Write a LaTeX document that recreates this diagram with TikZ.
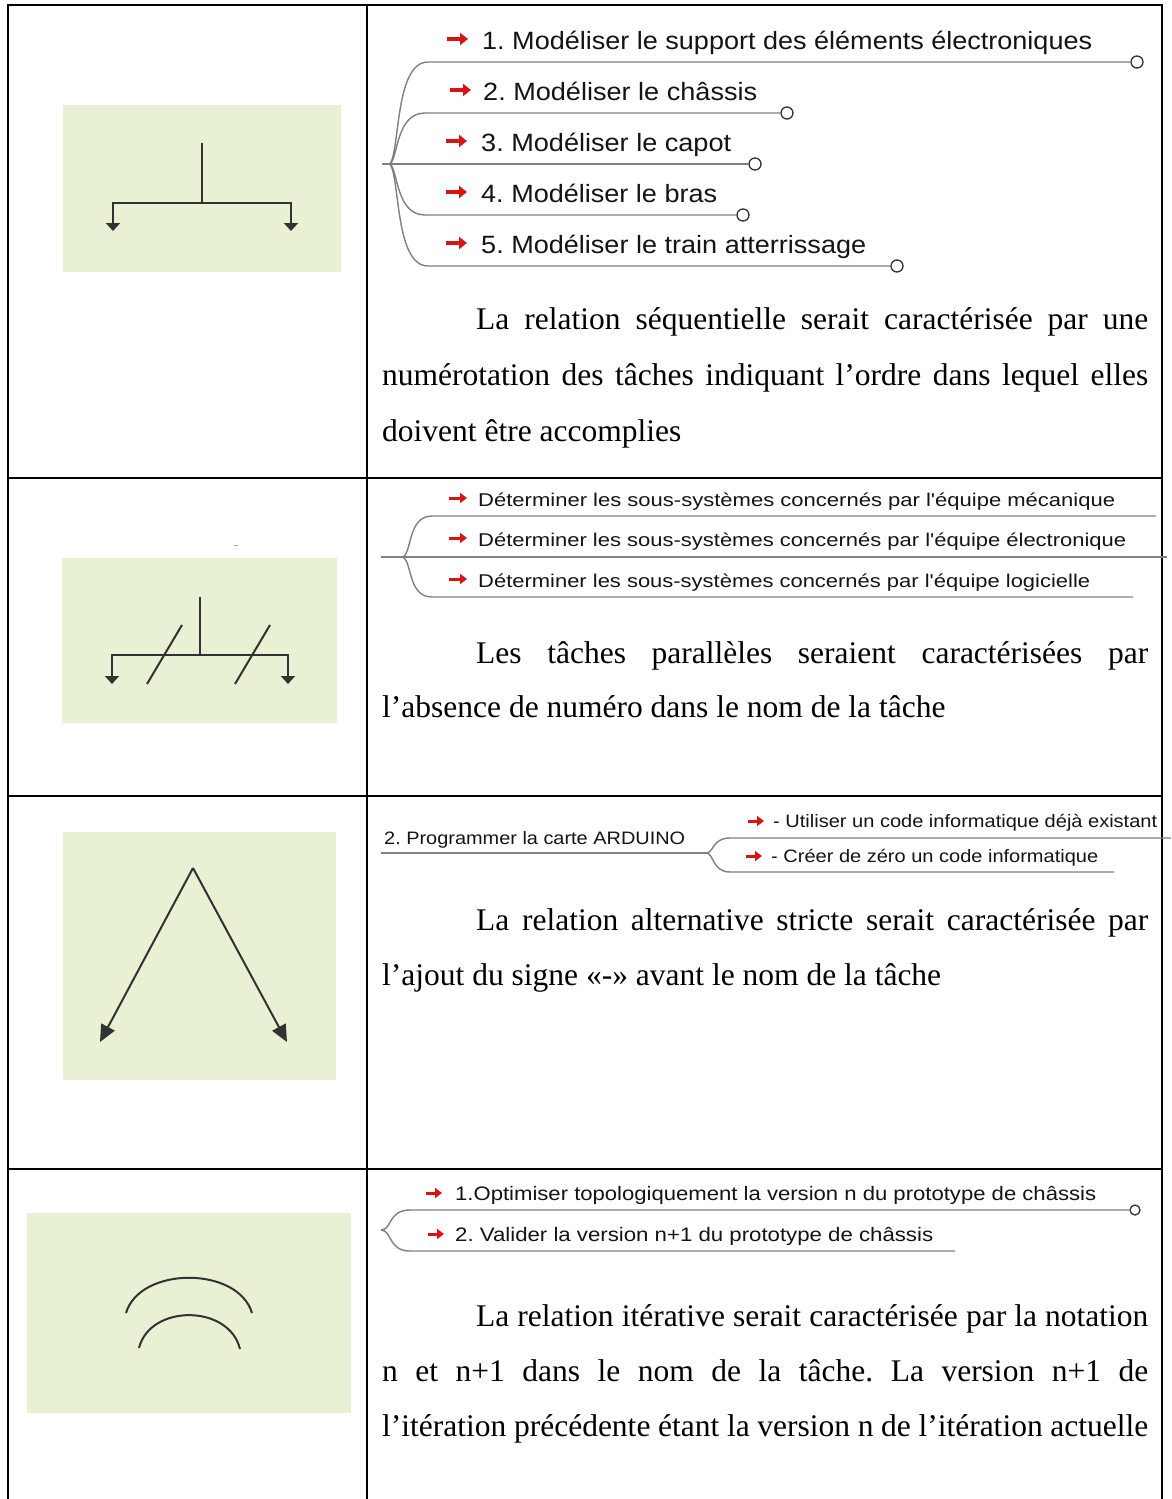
\documentclass[tikz,border=0pt]{standalone}
\usepackage{fontspec}
\usepackage{graphicx}
\setmainfont{Liberation Serif}
\newfontfamily\mmfont{Liberation Sans}
\usetikzlibrary{arrows.meta}
\setlength\parindent{0pt}
\frenchspacing
\definecolor{iconbg}{RGB}{232,241,212}
\definecolor{branchc}{RGB}{128,128,128}
\definecolor{iconline}{RGB}{50,50,50}
\definecolor{arrred}{RGB}{215,20,20}
\definecolor{mmtext}{RGB}{20,20,20}
\newcommand\fitw[2]{\resizebox{#1pt}{\height}{#2}}
\begin{document}
\begin{tikzpicture}[x=1pt,y=-1pt,
  gridline/.style={line width=2pt, black, line cap=rect},
  iconbox/.style={fill=iconbg, draw=none},
  icon/.style={line width=2pt, draw=iconline},
  headdown/.style={-{Triangle[length=8pt,width=14pt]}},
  bigtip/.style={-{Triangle[length=17pt,width=15pt]}},
  branch/.style={line width=1.4pt, draw=branchc},
  endc/.style={circle, draw=iconline, line width=1.3pt, fill=white, minimum size=12pt, inner sep=0pt},
  endcs/.style={endc, minimum size=10pt},
  mmA/.style={inner sep=0pt, anchor=base west, text=mmtext, font=\mmfont\fontsize{25}{30}\selectfont},
  mmB/.style={mmA, font=\mmfont\fontsize{18.5}{22}\selectfont},
  mmC/.style={mmA, font=\mmfont\fontsize{18}{22}\selectfont},
  mmD/.style={mmA, font=\mmfont\fontsize{19.5}{23}\selectfont},
  redA/.style={draw=arrred, line width=4pt, -{Triangle[length=8pt,width=12pt]}},
  redB/.style={draw=arrred, line width=3pt, -{Triangle[length=7pt,width=10pt]}},
  para/.style={inner sep=0pt, anchor=north west, text width=766pt, align=justify},
]
\useasboundingbox (0,0) rectangle (1171,1499);
\fill[white] (0,0) rectangle (1171,1499);

% ---------- table grid ----------
\draw[gridline] (8,5) -- (1162,5);
\draw[gridline] (8,5) -- (8,1499);
\draw[gridline] (1162,5) -- (1162,1499);
\draw[gridline] (367,5) -- (367,1499);
\draw[gridline] (8,478) -- (1162,478);
\draw[gridline] (8,796) -- (1162,796);
\draw[gridline] (8,1169) -- (1162,1169);

% ---------- row 1 icon : sequential ----------
\fill[iconbox] (63,105) rectangle (341,272);
\draw[icon] (202,143) -- (202,203);
\draw[icon, headdown] (202,203) -| (113,231);
\draw[icon, headdown] (202,203) -| (291,231);

% ---------- row 1 mind map ----------
\coordinate (r1) at (382,164);
\coordinate (j1) at (390,164);
\node[mmA] (t11) at (482,49) {\fitw{610}{1. Modéliser le support des éléments électroniques}};
\node[mmA] (t12) at (483,100) {\fitw{274}{2. Modéliser le châssis}};
\node[mmA] (t13) at (481,151) {\fitw{250}{3. Modéliser le capot}};
\node[mmA] (t14) at (481,202) {\fitw{236}{4. Modéliser le bras}};
\node[mmA] (t15) at (481,253) {\fitw{385}{5. Modéliser le train atterrissage}};
\node[endc] (c11) at (1137,62) {};
\node[endc] (c12) at (787,113) {};
\node[endc] (c13) at (755,164) {};
\node[endc] (c14) at (743,215) {};
\node[endc] (c15) at (897,266) {};
\draw[branch] (r1) -- (j1);
\draw[branch] (j1) .. controls (400,150) and (395,62) .. (428,62) -- (c11.west);
\draw[branch] (j1) .. controls (398,158) and (396,113) .. (425,113) -- (c12.west);
\draw[branch] (j1) -- (c13.west);
\draw[branch] (j1) .. controls (398,170) and (396,215) .. (425,215) -- (c14.west);
\draw[branch] (j1) .. controls (400,178) and (395,266) .. (428,266) -- (c15.west);
\foreach \t in {t11,t13,t14,t15}
  \draw[redA] ([shift={(-35,-10)}]\t.base west) -- ++(21,0);
\draw[redA] ([shift={(-33,-10)}]t12.base west) -- ++(21,0);

\node[para, font=\fontsize{31.5}{56}\selectfont] (p1) at (382,299)
 {\rule{0pt}{30pt}\hspace*{94pt}La relation séquentielle serait caractérisée par une\linebreak numérotation des tâches indiquant l’ordre dans lequel elles\linebreak doivent être accomplies};

% ---------- row 2 icon : parallel ----------
\draw[branchc!70, line width=1pt] (234,545) -- (238,545);
\fill[iconbox] (62,558) rectangle (337,723);
\draw[icon] (200,597) -- (200,655);
\draw[icon, headdown] (200,655) -| (112,684);
\draw[icon, headdown] (200,655) -| (288,684);
\draw[icon] (147,684) -- (182,625);
\draw[icon] (235,684) -- (270,625);

% ---------- row 2 mind map ----------
\coordinate (r2) at (381,557);
\coordinate (j2) at (403,557);
\coordinate (e21) at (1156,516);
\coordinate (e22) at (1167,557);
\coordinate (e23) at (1133,597);
\node[mmB] (t21) at (478,506) {\fitw{637}{Déterminer les sous-systèmes concernés par l'équipe mécanique}};
\node[mmB] (t22) at (478,546) {\fitw{648}{Déterminer les sous-systèmes concernés par l'équipe électronique}};
\node[mmB] (t23) at (478,587) {\fitw{612}{Déterminer les sous-systèmes concernés par l'équipe logicielle}};
\draw[branch] (r2) -- (e22);
\draw[branch] (j2) .. controls (412,552) and (408,516) .. (432,516) -- (e21);
\draw[branch] (j2) .. controls (412,562) and (408,597) .. (432,597) -- (e23);
\foreach \t in {t21,t22,t23}
  \draw[redB] ([shift={(-29,-8)}]\t.base west) -- ++(18,0);

\node[para, font=\fontsize{31.5}{54}\selectfont] (p2) at (382,633)
 {\rule{0pt}{30pt}\hspace*{94pt}Les tâches parallèles seraient caractérisées par\linebreak l’absence de numéro dans le nom de la tâche};

% ---------- row 3 icon : strict alternative ----------
\fill[iconbox] (63,832) rectangle (336,1080);
\draw[icon, bigtip] (193,868) -- (100,1042);
\draw[icon, bigtip] (193,868) -- (287,1042);

% ---------- row 3 mind map ----------
\coordinate (r3) at (381,853);
\coordinate (j3) at (706,853);
\coordinate (e31) at (1171,838);
\coordinate (e32) at (1114,872);
\node[mmC] (t30) at (384,844) {\fitw{301}{2. Programmer la carte ARDUINO}};
\node[mmC] (t31) at (773,827) {\fitw{384}{- Utiliser un code informatique déjà existant}};
\node[mmC] (t32) at (771,862) {\fitw{327}{- Créer de zéro un code informatique}};
\draw[branch] (r3) -- (j3);
\draw[branch] (j3) .. controls (714,853) and (712,838) .. (730,838) -- (e31);
\draw[branch] (j3) .. controls (714,853) and (712,872) .. (730,872) -- (e32);
\foreach \t in {t31,t32}
  \draw[redB] ([shift={(-25,-6)}]\t.base west) -- ++(16,0);

\node[para, font=\fontsize{31.5}{55}\selectfont] (p3) at (382,900)
 {\rule{0pt}{30pt}\hspace*{94pt}La relation alternative stricte serait caractérisée par\linebreak l’ajout du signe «-» avant le nom de la tâche};

% ---------- row 4 icon : iterative ----------
\fill[iconbox] (27,1213) rectangle (351,1413);
\draw[icon] (126,1313) .. controls (140,1266) and (238,1266) .. (252,1313);
\draw[icon] (139,1348) .. controls (150,1304) and (229,1304) .. (240,1349);

% ---------- row 4 mind map ----------
\coordinate (r4) at (381,1230);
\coordinate (e42) at (955,1251);
\node[mmD] (t41) at (455,1200) {\fitw{641}{1.Optimiser topologiquement la version n du prototype de châssis}};
\node[mmD] (t42) at (455,1241) {\fitw{478}{2. Valider la version n+1 du prototype de châssis}};
\node[endcs] (c41) at (1135,1210) {};
\draw[branch] (r4) .. controls (392,1230) and (388,1210) .. (410,1210) -- (c41.west);
\draw[branch] (r4) .. controls (392,1230) and (388,1251) .. (410,1251) -- (e42);
\draw[redB] ([shift={(-29,-7)}]t41.base west) -- ++(16,0);
\draw[redB] ([shift={(-27,-7)}]t42.base west) -- ++(16,0);

\node[para, font=\fontsize{31.5}{55}\selectfont] (p4) at (382,1296)
 {\parfillskip=0pt\rule{0pt}{30pt}\hspace*{94pt}La relation itérative serait caractérisée par la notation\linebreak n et n+1 dans le nom de la tâche. La version n+1 de\linebreak l’itération précédente étant la version n de l’itération actuelle};
\end{tikzpicture}
\end{document}
